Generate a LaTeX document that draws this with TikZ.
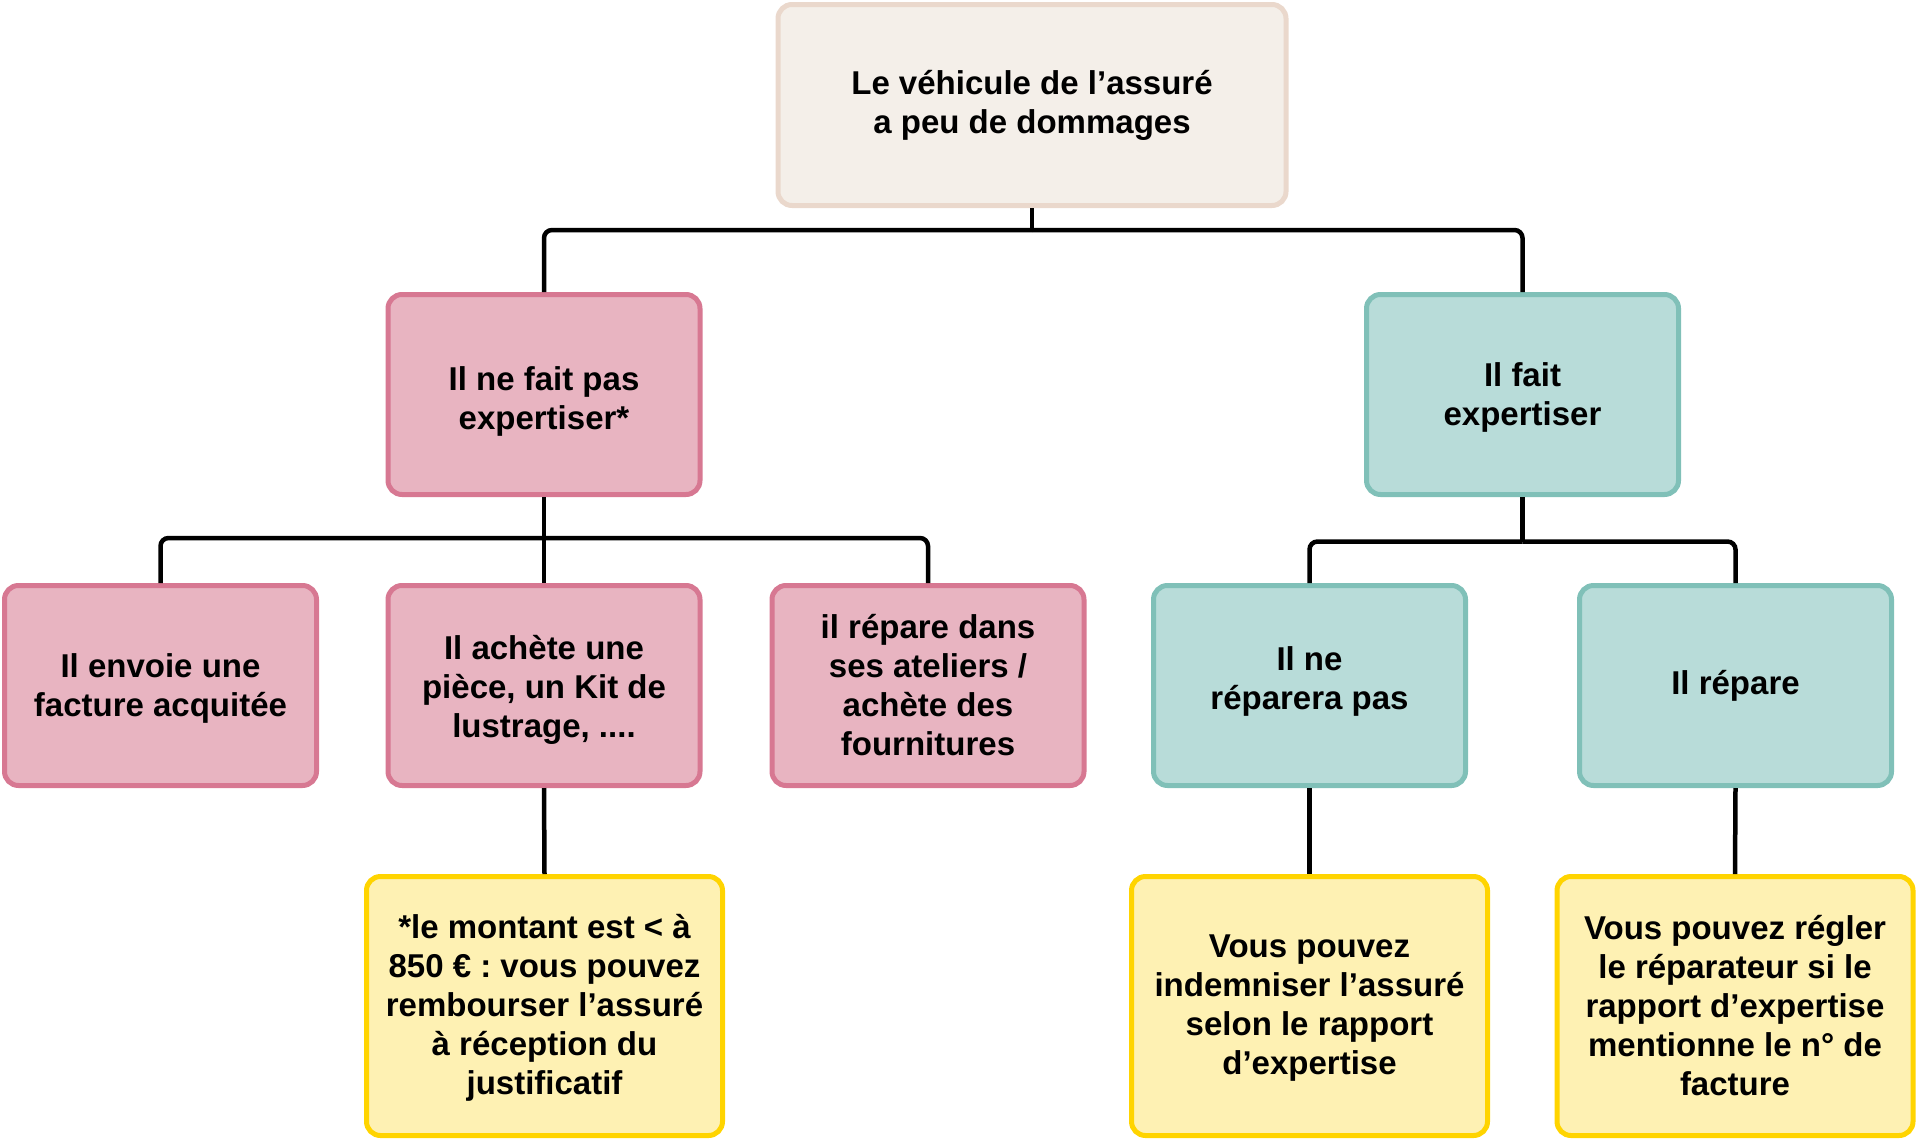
\documentclass[tikz,border=0pt]{standalone}
\usepackage{fontspec}
\setmainfont{Liberation Sans}
\definecolor{rootfill}{HTML}{F4EFE9}
\definecolor{rootdraw}{HTML}{EAD8CC}
\definecolor{pinkfill}{HTML}{E8B4C1}
\definecolor{pinkdraw}{HTML}{D77892}
\definecolor{tealfill}{HTML}{B8DCD9}
\definecolor{tealdraw}{HTML}{80C0B8}
\definecolor{yelfill}{HTML}{FEF1B3}
\definecolor{yeldraw}{HTML}{FFD400}
\newcommand{\shiftlines}[2]{\raisebox{#1}[\height][\depth]{\begin{tabular}{@{}c@{}}#2\end{tabular}}}
\begin{document}
\begin{tikzpicture}[x=0.5pt,y=-0.5pt,
  box/.style={rectangle, rounded corners=7pt, line width=2.5pt, inner sep=0pt, align=center,
    font=\bfseries\fontsize{16.5}{19.5}\selectfont\frenchspacing, text=black},
  rootbox/.style={box, fill=rootfill, draw=rootdraw, minimum width=254pt, minimum height=100.5pt},
  pinkbox/.style={box, fill=pinkfill, draw=pinkdraw, minimum width=156pt, minimum height=100pt},
  tealbox/.style={box, fill=tealfill, draw=tealdraw, minimum width=156pt, minimum height=100pt},
  yelbox/.style={box, fill=yelfill, draw=yeldraw, minimum width=178pt, minimum height=129.5pt},
  conn/.style={line width=2.25pt, draw=black, rounded corners=4pt}]
\useasboundingbox (0,0) rectangle (1917,1141);
\coordinate (j1) at (1032,230);
\coordinate (j2) at (544,538);
\coordinate (j3) at (1522.5,541.5);
\node[rootbox] (root) at (1032,105) {Le véhicule de l’assuré\\a peu de dommages};
\node[pinkbox] (l1a) at (544,394.5) {\shiftlines{-3.7pt}{Il ne fait pas\\expertiser*}};
\node[tealbox] (l1b) at (1522.5,394.5) {\shiftlines{-1.8pt}{Il fait\\expertiser}};
\node[pinkbox] (a) at (160.5,685.5) {\shiftlines{-1.8pt}{Il envoie une\\facture acquitée}};
\node[pinkbox] (b) at (544,685.5) {\shiftlines{-2.4pt}{Il achète une\\pièce, un Kit de\\lustrage, ....}};
\node[pinkbox] (c) at (928,685.5) {il répare dans\\ses ateliers /\\achète des\\fournitures};
\node[tealbox] (d) at (1309.5,685.5) {\shiftlines{1.8pt}{Il ne\\réparera pas}};
\node[tealbox] (e) at (1735.5,685.5) {Il répare};
\node[yelbox] (f) at (544.5,1006) {\shiftlines{-1.2pt}{*le montant est < à\\850 € : vous pouvez\\rembourser l’assuré\\à réception du\\justificatif}};
\node[yelbox] (g) at (1309.5,1006) {\shiftlines{-1.2pt}{Vous pouvez\\indemniser l’assuré\\selon le rapport\\d’expertise}};
\node[yelbox] (h) at (1735,1006) {Vous pouvez régler\\le réparateur si le\\rapport d’expertise\\mentionne le n° de\\facture};
\draw[conn] (root.south) -- (j1);
\draw[conn] (j1) -| (l1a.north);
\draw[conn] (j1) -| (l1b.north);
\draw[conn] (l1a.south) -- (j2);
\draw[conn] (j2) -| (a.north);
\draw[conn] (j2) -- (b.north);
\draw[conn] (j2) -| (c.north);
\draw[conn] (l1b.south) -- (j3);
\draw[conn] (j3) -| (d.north);
\draw[conn] (j3) -| (e.north);
\draw[conn] (b.south) -- (f.north);
\draw[conn] (d.south) -- (g.north);
\draw[conn] (e.south) -- (h.north);
\end{tikzpicture}
\end{document}
